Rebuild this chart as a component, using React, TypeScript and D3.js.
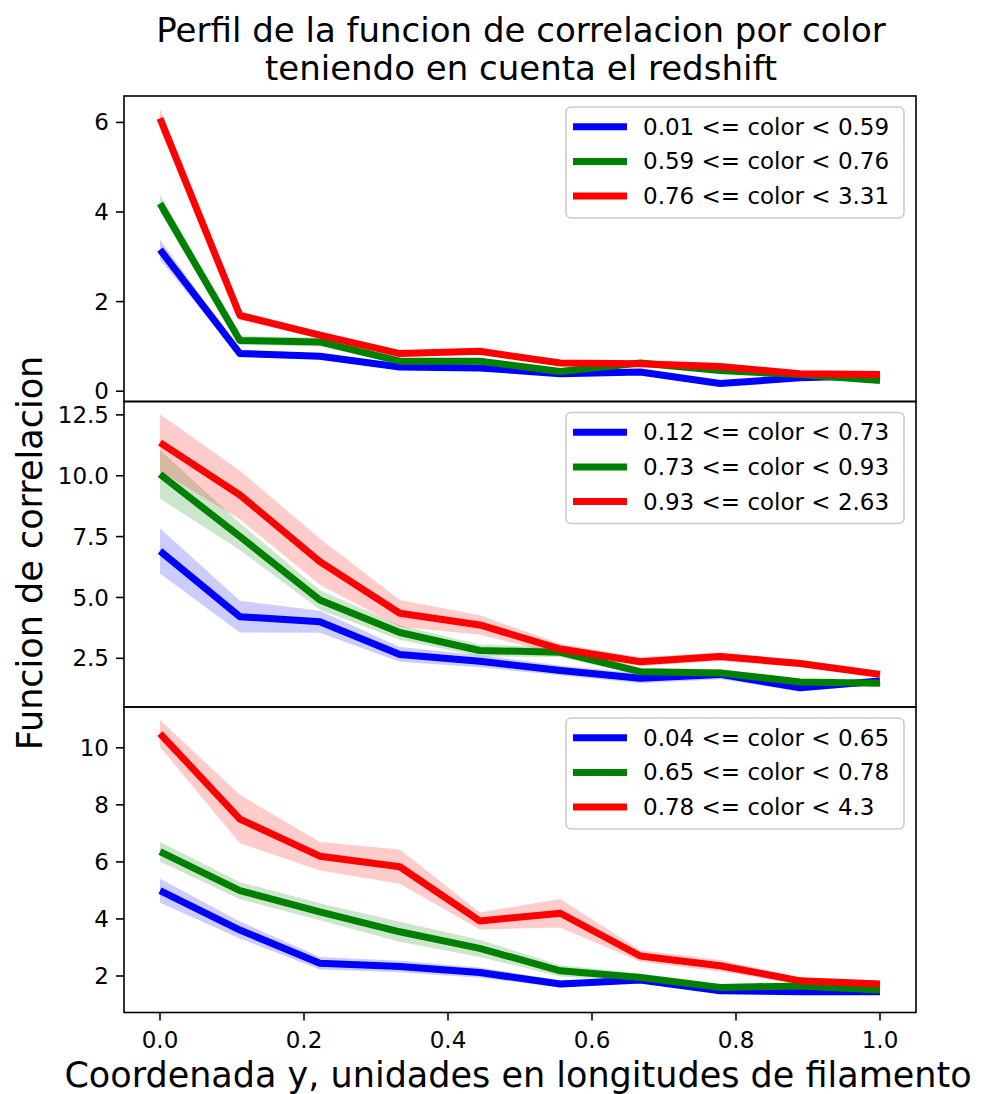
import React from 'react';
import * as d3 from 'd3';

const xs = [0, 0.111, 0.222, 0.333, 0.444, 0.556, 0.667, 0.778, 0.889, 1.0];
const xTicks = [0, 0.2, 0.4, 0.6, 0.8, 1.0];

// panel 1 (top)
const blue1 = [3.16, 0.84, 0.78, 0.54, 0.52, 0.39, 0.43, 0.17, 0.3, 0.35];
const blue1Err = [0.22, 0.08, 0.07, 0.06, 0.06, 0.05, 0.05, 0.05, 0.05, 0.05];
const green1 = [4.19, 1.13, 1.1, 0.67, 0.67, 0.44, 0.63, 0.46, 0.37, 0.24];
const green1Err = [0.2, 0.1, 0.1, 0.07, 0.06, 0.05, 0.05, 0.05, 0.05, 0.05];
const red1 = [6.09, 1.69, 1.25, 0.84, 0.89, 0.63, 0.61, 0.55, 0.39, 0.37];
const red1Err = [0.22, 0.1, 0.08, 0.07, 0.07, 0.06, 0.06, 0.06, 0.05, 0.05];
const labels1 = ['0.01 <= color < 0.59', '0.59 <= color < 0.76', '0.76 <= color < 3.31'];
const yTicks1 = [0, 2, 4, 6];

// panel 2 (middle)
const blue2 = [6.91, 4.21, 4.0, 2.66, 2.38, 2.0, 1.68, 1.84, 1.29, 1.57];
const blue2Err = [0.93, 0.65, 0.45, 0.3, 0.25, 0.2, 0.2, 0.2, 0.15, 0.15];
const green2 = [10.06, 7.5, 4.9, 3.56, 2.82, 2.75, 1.95, 1.9, 1.53, 1.48];
const green2Err = [1.0, 0.55, 0.4, 0.3, 0.25, 0.2, 0.15, 0.15, 0.12, 0.12];
const red2 = [11.36, 9.21, 6.47, 4.35, 3.87, 2.88, 2.36, 2.57, 2.29, 1.84];
const red2Err = [1.17, 1.0, 0.95, 0.55, 0.4, 0.22, 0.18, 0.18, 0.15, 0.15];
const labels2 = ['0.12 <= color < 0.73', '0.73 <= color < 0.93', '0.93 <= color < 2.63'];
const yTicks2 = [2.5, 5.0, 7.5, 10.0, 12.5];

// panel 3 (bottom)
const blue3 = [4.99, 3.61, 2.45, 2.33, 2.12, 1.72, 1.86, 1.48, 1.45, 1.45];
const blue3Err = [0.42, 0.3, 0.22, 0.2, 0.18, 0.12, 0.1, 0.1, 0.1, 0.1];
const green3 = [6.36, 4.99, 4.25, 3.55, 2.97, 2.18, 1.95, 1.6, 1.65, 1.51];
const green3Err = [0.35, 0.3, 0.3, 0.35, 0.3, 0.2, 0.15, 0.1, 0.1, 0.1];
const red3 = [10.5, 7.5, 6.2, 5.83, 3.93, 4.2, 2.7, 2.36, 1.83, 1.72];
const red3Err = [0.47, 0.85, 0.5, 0.6, 0.3, 0.5, 0.2, 0.2, 0.12, 0.12];
const labels3 = ['0.04 <= color < 0.65', '0.65 <= color < 0.78', '0.78 <= color < 4.3'];
const yTicks3 = [2, 4, 6, 8, 10];

const colors = ['#0000ff', '#008000', '#ff0000'];

const W = 982;
const H = 1094;
const left = 124;
const right = 916;
const panelH = 305.5;
const tops = [96, 401.5, 707];
const font = 'DejaVu Sans, Verdana, sans-serif';

const panels = [
  { series: [blue1, green1, red1], errs: [blue1Err, green1Err, red1Err], labels: labels1, ticks: yTicks1, domain: [-0.23, 6.59], fmt: d3.format('d') },
  { series: [blue2, green2, red2], errs: [blue2Err, green2Err, red2Err], labels: labels2, ticks: yTicks2, domain: [0.5, 13.05], fmt: d3.format('.1f') },
  { series: [blue3, green3, red3], errs: [blue3Err, green3Err, red3Err], labels: labels3, ticks: yTicks3, domain: [0.72, 11.43], fmt: d3.format('d') },
];

const x = d3.scaleLinear().domain([-0.05, 1.05]).range([left, right]);

function Panel({ p, top, showX }: any) {
  const y = d3.scaleLinear().domain(p.domain).range([top + panelH, top]);
  const line = d3.line<number>().x((_, i) => x(xs[i])).y(d => y(d));
  const area = (vals: number[], err: number[]) =>
    d3.area<number>()
      .x((_, i) => x(xs[i]))
      .y0((d, i) => y(d - err[i]))
      .y1((d, i) => y(d + err[i]))(vals) || '';
  const lx = 566;
  const ly = top + 11;
  return (
    <g>
      <defs>
        <clipPath id={`clip${top}`}>
          <rect x={left} y={top} width={right - left} height={panelH} />
        </clipPath>
      </defs>
      <g clipPath={`url(#clip${top})`}>
        {p.series.map((s: number[], i: number) => (
          <path key={'a' + i} d={area(s, p.errs[i])} fill={colors[i]} fillOpacity={0.2} stroke="none" />
        ))}
        {p.series.map((s: number[], i: number) => (
          <path key={'l' + i} d={line(s) || ''} fill="none" stroke={colors[i]} strokeWidth={7} strokeLinejoin="round" />
        ))}
      </g>
      <rect x={left} y={top} width={right - left} height={panelH} fill="none" stroke="#000" strokeWidth={1.6} />
      {p.ticks.map((t: number) => (
        <g key={t} transform={`translate(${left},${y(t)})`}>
          <line x1={-8} x2={0} stroke="#000" strokeWidth={1.6} />
          <text x={-15} dy="0.35em" textAnchor="end" fontSize={23} fontFamily={font}>{p.fmt(t)}</text>
        </g>
      ))}
      {showX && xTicks.map(t => (
        <g key={t} transform={`translate(${x(t)},${top + panelH})`}>
          <line y2={8} stroke="#000" strokeWidth={1.6} />
          <text y={35} textAnchor="middle" fontSize={23} fontFamily={font}>{d3.format('.1f')(t)}</text>
        </g>
      ))}
      <rect x={lx} y={ly} width={338} height={111} rx={5} fill="#fff" fillOpacity={0.8} stroke="#cccccc" strokeWidth={1.6} />
      {p.labels.map((lab: string, i: number) => (
        <g key={lab} transform={`translate(0,${ly + 19.7 + i * 34.7})`}>
          <line x1={573} x2={627} stroke={colors[i]} strokeWidth={7} />
          <text x={643} dy="0.35em" fontSize={23} fontFamily={font}>{lab}</text>
        </g>
      ))}
    </g>
  );
}

export default function App() {
  return (
    <svg width={W} height={H} style={{ position: 'absolute', left: 0, top: 0, background: '#fff' }}>
      <rect width={W} height={H} fill="#fff" />
      <text x={521} y={42} textAnchor="middle" fontSize={34} fontFamily={font}>Perfil de la funcion de correlacion por color</text>
      <text x={521} y={80} textAnchor="middle" fontSize={34} fontFamily={font}>teniendo en cuenta el redshift</text>
      {panels.map((p, i) => (
        <Panel key={i} p={p} top={tops[i]} showX={i === 2} />
      ))}
      <text transform={`translate(42,553) rotate(-90)`} textAnchor="middle" fontSize={35} fontFamily={font}>Funcion de correlacion</text>
      <text x={518} y={1087} textAnchor="middle" fontSize={35} fontFamily={font}>Coordenada y, unidades en longitudes de filamento</text>
    </svg>
  );
}
